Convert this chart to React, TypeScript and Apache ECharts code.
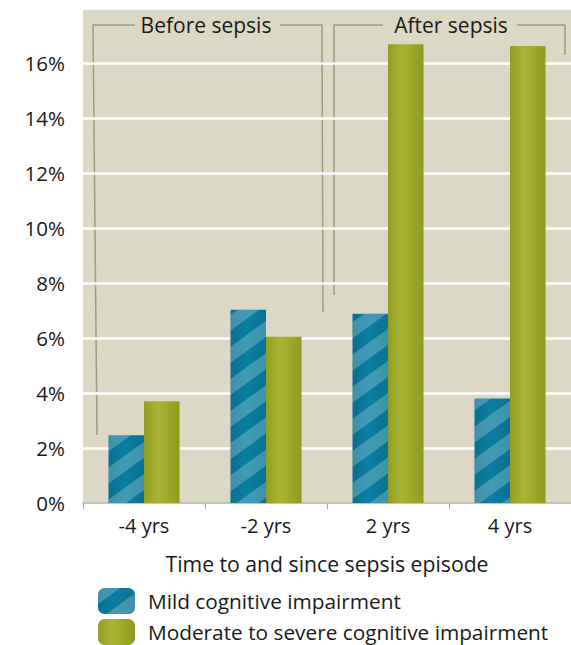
import React, { useEffect, useRef } from "react";
import * as echarts from "echarts";

const categories = ["-4 yrs", "-2 yrs", "2 yrs", "4 yrs"];
const mildValues = [2.46, 7.03, 6.88, 3.8];
const moderateValues = [3.7, 6.05, 16.68, 16.62];
const seriesNames = ["Mild cognitive impairment", "Moderate to severe cognitive impairment"];
const yTicks = [0, 2, 4, 6, 8, 10, 12, 14, 16];
const periodLabels = ["Before sepsis", "After sepsis"];
const xAxisTitle = "Time to and since sepsis episode";

const FONT = "'Open Sans', Lato, sans-serif";

export default function App() {
  const ref = useRef<HTMLDivElement>(null);
  useEffect(() => {
    if (!ref.current) return;
    const chart = echarts.init(ref.current, null, { renderer: "svg" });
    const lineColor = "#9c9d7c";
    const blueColor = {
      type: "linear", x: 0, y: 0, x2: 1, y2: 0,
      colorStops: [
        { offset: 0, color: "#0c6f90" },
        { offset: 0.45, color: "#0a7fa2" },
        { offset: 1, color: "#0a7293" },
      ],
    };
    const greenColor = {
      type: "linear", x: 0, y: 0, x2: 1, y2: 0,
      colorStops: [
        { offset: 0, color: "#929d22" },
        { offset: 0.4, color: "#aab433" },
        { offset: 1, color: "#8f9a20" },
      ],
    };
    const decal = {
      symbol: "rect",
      symbolSize: 1,
      color: "rgba(255,255,255,0.22)",
      dashArrayX: [1, 0],
      dashArrayY: [13, 13],
      rotation: -Math.PI / 5,
    };
    chart.setOption({
      animation: false,
      textStyle: { fontFamily: FONT },
      grid: {
        left: 83, right: -4, top: 8, bottom: 142,
        show: true, backgroundColor: "#dbd8c5", borderWidth: 0,
      },
      legend: {
        orient: "vertical",
        left: 98, top: 588,
        itemWidth: 37, itemHeight: 26, itemGap: 5,
        padding: 0,
        data: seriesNames,
        selectedMode: false,
        textStyle: { fontSize: 20.8, color: "#1a1a1a", fontFamily: FONT, padding: [0, 0, 0, 8] },
      },
      xAxis: {
        type: "category",
        data: categories,
        name: xAxisTitle,
        nameLocation: "middle",
        nameGap: 50,
        nameTextStyle: { fontSize: 21.2, color: "#1a1a1a", fontFamily: FONT },
        axisLine: { lineStyle: { color: "#b3b29c", width: 1.5 } },
        axisTick: { show: true, length: 6, lineStyle: { color: "#a9a890" } },
        axisLabel: { fontSize: 20, color: "#1a1a1a", margin: 12, fontFamily: FONT },
      },
      yAxis: {
        type: "value",
        min: 0, max: 18, interval: 2,
        axisLine: { show: false },
        axisTick: { show: false },
        axisLabel: {
          fontSize: 20.5, color: "#1a1a1a", margin: 18, fontFamily: FONT,
          formatter: (v: number) => (yTicks.includes(v) ? v + "%" : ""),
        },
        splitLine: { lineStyle: { color: "#ffffff", width: 2.5 } },
      },
      series: [
        {
          name: seriesNames[0], type: "bar", data: mildValues,
          barWidth: 35.5, barGap: "0%",
          itemStyle: { color: blueColor, decal },
        },
        {
          name: seriesNames[1], type: "bar", data: moderateValues,
          barWidth: 35.5,
          itemStyle: { color: greenColor },
        },
      ],
      graphic: [
        { type: "polyline", shape: { points: [[97, 435], [93, 25], [135, 25]] }, style: { stroke: lineColor, lineWidth: 1.5, fill: null } },
        { type: "polyline", shape: { points: [[280, 25], [322, 25], [323, 312]] }, style: { stroke: lineColor, lineWidth: 1.5, fill: null } },
        { type: "text", x: 206, y: 25, style: { text: periodLabels[0], fontSize: 21, fill: "#1a1a1a", fontFamily: FONT, align: "center", verticalAlign: "middle" } },
        { type: "polyline", shape: { points: [[334, 295], [334, 25], [383, 25]] }, style: { stroke: lineColor, lineWidth: 1.5, fill: null } },
        { type: "polyline", shape: { points: [[517, 25], [565, 25], [565, 55]] }, style: { stroke: lineColor, lineWidth: 1.5, fill: null } },
        { type: "text", x: 451, y: 25, style: { text: periodLabels[1], fontSize: 21, fill: "#1a1a1a", fontFamily: FONT, align: "center", verticalAlign: "middle" } },
      ],
    });
    return () => chart.dispose();
  }, []);
  return <div ref={ref} style={{ position: "fixed", left: 0, top: 0, width: 571, height: 645, background: "#fff" }} />;
}
